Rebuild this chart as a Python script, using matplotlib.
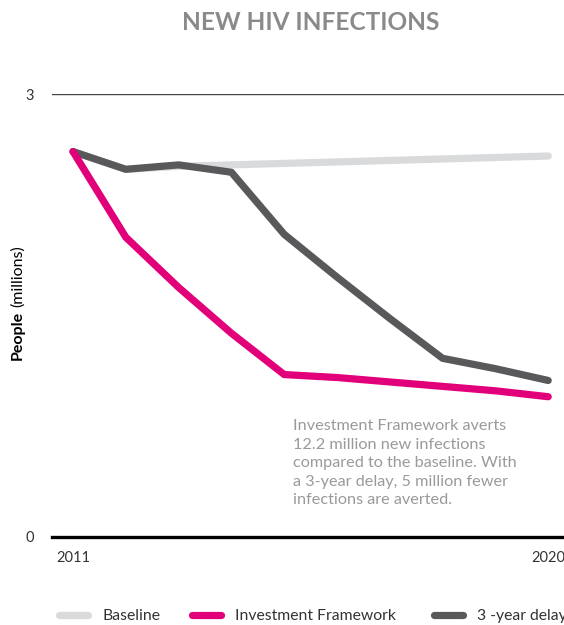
import matplotlib.pyplot as plt
from matplotlib.lines import Line2D

plt.rcParams['font.family'] = ['Lato', 'DejaVu Sans']

# Data (millions of new infections)
years = [2011, 2012, 2013, 2014, 2015, 2016, 2017, 2018, 2019, 2020]
baseline = [2.61, 2.49, 2.51, 2.52, 2.53, 2.54, 2.55, 2.56, 2.57, 2.58]
investment = [2.61, 2.03, 1.69, 1.38, 1.10, 1.08, 1.05, 1.02, 0.99, 0.95]
delay = [2.61, 2.49, 2.52, 2.47, 2.05, 1.76, 1.48, 1.21, 1.14, 1.06]

series_names = ["Baseline", "Investment Framework", "3 -year delay"]
colors = ["#d9dadb", "#e2007a", "#59595b"]

note = ("Investment Framework averts\n12.2 million new infections\n"
        "compared to the baseline. With\na 3-year delay, 5 million fewer\n"
        "infections are averted.")

W, H = 564, 625
fig = plt.figure(figsize=(W / 100, H / 100), dpi=100)

# axes run past the right edge like the cropped original
left_px, right_px, top_px, bottom_px = 52, 620, 94, 537
ax = fig.add_axes([left_px / W, 1 - bottom_px / H,
                   (right_px - left_px) / W, (bottom_px - top_px) / H])

x_per_px = 1 / 52.8
ax.set_xlim(2011 - (73 - left_px) * x_per_px, 2011 + (right_px - 73) * x_per_px)
ax.set_ylim(0, 3)

for vals, c in zip([baseline, delay, investment], [colors[0], colors[2], colors[1]]):
    ax.plot(years, vals, color=c, lw=5.2, solid_capstyle='round',
            solid_joinstyle='round', clip_on=False)

ax.axhline(3, color="#444444", lw=1.0)
for s in ['top', 'right', 'left']:
    ax.spines[s].set_visible(False)
ax.spines['bottom'].set_color('black')
ax.spines['bottom'].set_linewidth(2.4)

ax.set_xticks([2011, 2020])
ax.set_xticklabels(["2011", "2020"])
ax.set_yticks([0, 3])
ax.set_yticklabels(["0", "3"])
ax.tick_params(axis='x', length=0, pad=10, labelsize=10.5, labelcolor="#333333")
ax.tick_params(axis='y', length=0, pad=13, labelsize=10.5, labelcolor="#333333")

# y label: bold "People" + regular "(millions)", stacked upwards from y=360px
renderer = fig.canvas.get_renderer()
t1 = fig.text(18 / W, 1 - 360 / H, "People", rotation=90, fontsize=11.5,
              fontweight='bold', color='black', ha='center', va='bottom')
h1 = t1.get_window_extent(renderer).height
fig.text(18 / W, 1 - (360 - h1 - 4) / H, "(millions)", rotation=90,
         fontsize=11.5, color='black', ha='center', va='bottom')

fig.text(311 / W, 1 - 22 / H, "NEW HIV INFECTIONS", fontsize=17.6,
         fontweight='bold', color="#8a8a8a", ha='center', va='center')

fig.text(293 / W, 1 - 419 / H, note, fontsize=11.7, color="#9a9a9a",
         ha='left', va='top', linespacing=1.42)

# legend, one entry per block (the last one runs off the right edge as in the original)
legend_x = [58.6, 191.6, 433.6]
for name, c, lx in zip(series_names, colors, legend_x):
    h = Line2D([0], [0], color=c, lw=5.2, solid_capstyle='round')
    lg = fig.legend([h], [name], loc='center left',
                    bbox_to_anchor=(lx / W, 1 - 616 / H), frameon=False,
                    fontsize=11.3, handlelength=1.9, handletextpad=0.87,
                    borderpad=0, borderaxespad=0)
    for t in lg.get_texts():
        t.set_color("#333333")

fig.savefig("out.png", dpi=100)
